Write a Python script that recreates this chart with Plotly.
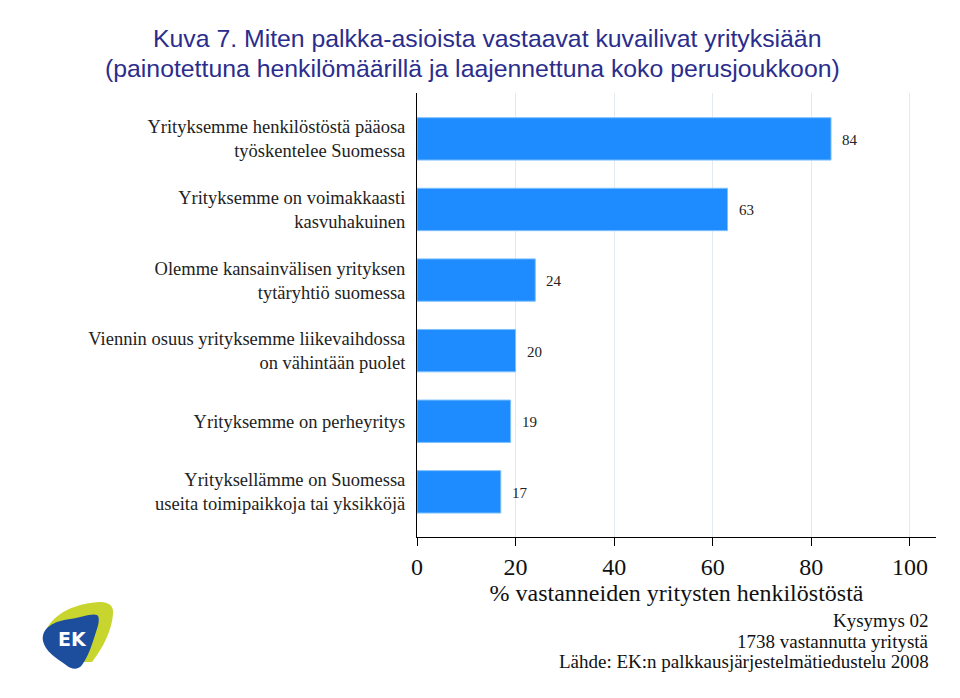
import plotly.graph_objects as go

categories = [
    "Yrityksemme henkilöstöstä pääosa<br>työskentelee Suomessa",
    "Yrityksemme on voimakkaasti<br>kasvuhakuinen",
    "Olemme kansainvälisen yrityksen<br>tytäryhtiö suomessa",
    "Viennin osuus yrityksemme liikevaihdossa<br>on vähintään puolet",
    "Yrityksemme on perheyritys",
    "Yrityksellämme on Suomessa<br>useita toimipaikkoja tai yksikköjä",
]
values = [84, 63, 24, 20, 19, 17]
x_ticks = [0, 20, 40, 60, 80, 100]

title_line1 = "Kuva 7. Miten palkka-asioista vastaavat kuvailivat yrityksiään"
title_line2 = "(painotettuna henkilömäärillä ja laajennettuna koko perusjoukkoon)"
x_title = "% vastanneiden yritysten henkilöstöstä"
footer_lines = [
    "Kysymys 02",
    "1738 vastannutta yritystä",
    "Lähde: EK:n palkkausjärjestelmätiedustelu 2008",
]

# page offset (body margin) and plot area in screen pixels
OFF = 8
L, R, T, B = 417, 936, 93, 537
W, H = R - L, B - T
FIG_W, FIG_H = 960 - OFF, 698 - OFF


def px(x):
    return (x - L) / W


def py(y):
    return (B - y) / H


def path(cmds):
    out = []
    for c in cmds:
        if isinstance(c, str):
            out.append(c)
        else:
            out.append(f"{px(c[0]):.5f},{py(c[1]):.5f}")
    return " ".join(out)


serif = "Liberation Serif, Times New Roman, serif"
sans = "Liberation Sans, Arial, sans-serif"

fig = go.Figure()
fig.add_trace(go.Bar(
    x=values, y=categories, orientation="h",
    marker=dict(color="#1E8CFF", line=dict(color="#7CC0FF", width=1)),
    width=0.6, hoverinfo="skip",
))

annotations = []
for v, c in zip(values, categories):
    annotations.append(dict(
        x=v, y=c, xref="x", yref="y", text=str(v), showarrow=False,
        xanchor="left", xshift=9, yshift=-1,
        font=dict(family=serif, size=15, color="#222222"),
    ))

annotations += [
    dict(x=px(487), y=py(38), xref="paper", yref="paper", text=title_line1,
         showarrow=False, xanchor="center", yanchor="middle",
         font=dict(family=sans, size=24.8, color="#2B2D8C")),
    dict(x=px(472), y=py(68), xref="paper", yref="paper", text=title_line2,
         showarrow=False, xanchor="center", yanchor="middle",
         font=dict(family=sans, size=24.8, color="#2B2D8C")),
    dict(x=px(72), y=py(639), xref="paper", yref="paper", text="<b>EK</b>",
         showarrow=False, xanchor="center", yanchor="middle",
         font=dict(family="DejaVu Sans", size=19, color="white")),
]
for line, yc in zip(footer_lines, [620, 641, 661]):
    annotations.append(dict(
        x=px(931), y=py(yc), xref="paper", yref="paper", text=line,
        showarrow=False, xanchor="right", yanchor="middle",
        font=dict(family=serif, size=19, color="#111111"),
    ))

yellow = path(["M", (47, 628), "C", (58, 610), (80, 603), (100, 602),
               "C", (110, 602), (114, 607), (113, 614),
               "C", (112, 630), (103, 648), (92, 662),
               "L", (80, 662), "L", (60, 630), "Z"])
blue = path(["M", (43, 641), "C", (41, 628), (54, 621), (70, 619),
             "C", (82, 617), (92, 613), (97, 615),
             "C", (100, 617), (99, 624), (96, 632),
             "C", (92, 645), (88, 657), (82, 665),
             "C", (78, 670), (72, 670), (66, 665),
             "C", (56, 658), (45, 651), (43, 641), "Z"])

shapes = [
    dict(type="path", xref="paper", yref="paper", path=yellow,
         fillcolor="#C9D52F", line=dict(width=0), layer="above"),
    dict(type="path", xref="paper", yref="paper", path=blue,
         fillcolor="#1D4E9E", line=dict(width=0), layer="above"),
]

fig.update_layout(
    width=FIG_W, height=FIG_H,
    margin=dict(l=L - OFF, r=FIG_W - (R - OFF), t=T - OFF, b=FIG_H - (B - OFF)),
    paper_bgcolor="white", plot_bgcolor="white",
    showlegend=False,
    annotations=annotations,
    shapes=shapes,
    xaxis=dict(
        range=[0, 105.3], tickvals=x_ticks, ticktext=[str(t) for t in x_ticks],
        showgrid=True, gridcolor="#E4E9EF", gridwidth=1,
        zeroline=False, showline=True, linecolor="black", linewidth=1,
        ticks="outside", ticklen=8, tickcolor="black",
        tickfont=dict(family=serif, size=24, color="#111111"),
        title=dict(text=x_title, standoff=0,
                   font=dict(family=serif, size=24, color="#111111")),
        fixedrange=True,
    ),
    yaxis=dict(
        categoryorder="array", categoryarray=categories,
        range=[5.64, -0.65],
        showgrid=False, zeroline=False,
        showline=True, linecolor="black", linewidth=1,
        ticks="", ticklabelstandoff=7,
        tickfont=dict(family=serif, size=18.5, color="#222222"),
        fixedrange=True,
    ),
)

fig.write_html("out.html")
